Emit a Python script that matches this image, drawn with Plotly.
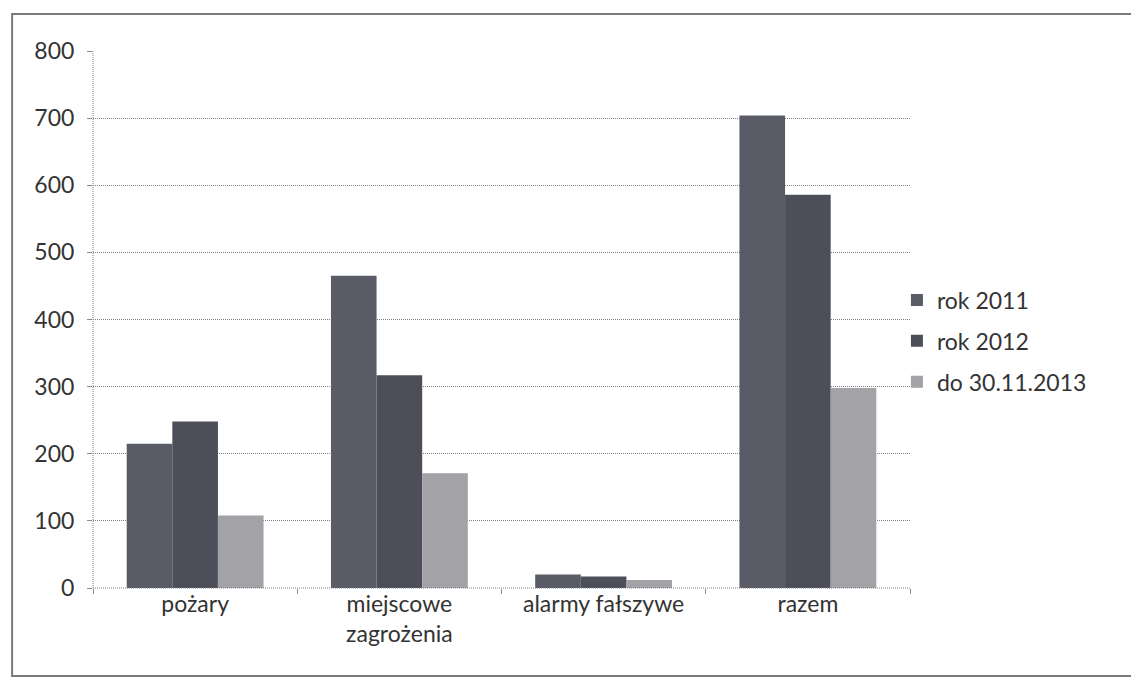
import plotly.graph_objects as go

categories = ["pożary", "miejscowe<br>zagrożenia", "alarmy fałszywe", "razem"]
series_names = ["rok 2011", "rok 2012", "do 30.11.2013"]
v2011 = [215, 465, 20, 704]
v2012 = [248, 317, 17, 586]
v2013 = [108, 171, 12, 298]
y_ticks = [0, 100, 200, 300, 400, 500, 600, 700, 800]

colors = ["#595c66", "#4c4f59", "#a2a2a7"]
FONT = "Lato"
TXT = "#333333"

fig = go.Figure()
for i, (name, vals) in enumerate(zip(series_names, [v2011, v2012, v2013])):
    fig.add_trace(go.Bar(
        x=categories, y=vals, name=name,
        marker=dict(color=colors[i], line=dict(width=0)),
        legendgroup=f"g{i}",
    ))

fig.update_layout(
    width=1131, height=677,
    margin=dict(l=85, r=229, t=43, b=97),
    paper_bgcolor="white", plot_bgcolor="white",
    barmode="group", bargap=0.33, bargroupgap=0,
    font=dict(family=FONT, color=TXT, size=23),
    showlegend=True,
    legend=dict(
        x=0.984, xanchor="left", y=0.46, yanchor="middle",
        font=dict(family=FONT, size=23, color=TXT),
        traceorder="grouped", tracegroupgap=8,
        bgcolor="rgba(0,0,0,0)",
    ),
    xaxis=dict(
        showline=False,
        ticks="outside", tickson="boundaries", ticklen=5, tickcolor="#8a8a8a",
        tickfont=dict(family=FONT, size=23, color=TXT),
        showgrid=False, zeroline=False,
    ),
    yaxis=dict(
        range=[0, 800], tickvals=y_ticks,
        showgrid=True, gridcolor="#808080", griddash="1px,1px", gridwidth=1,
        showline=False,
        ticks="outside", ticklen=5, tickcolor="#8a8a8a",
        tickfont=dict(family=FONT, size=23, color=TXT),
        zeroline=False, ticklabelstandoff=8,
    ),
    shapes=[
        dict(type="rect", xref="paper", yref="paper",
             x0=-0.099, x1=1.3, y0=-0.164, y1=1.069,
             line=dict(color="#7a7a7a", width=2), fillcolor="rgba(0,0,0,0)",
             layer="below"),
        dict(type="line", xref="paper", yref="paper", x0=0, x1=0, y0=0, y1=1,
             line=dict(color="#808080", width=1, dash="1px,1px")),
        dict(type="line", xref="paper", yref="paper", x0=0, x1=1, y0=0, y1=0,
             line=dict(color="#808080", width=1, dash="1px,1px")),
    ],
)

fig.write_html("out.html")
